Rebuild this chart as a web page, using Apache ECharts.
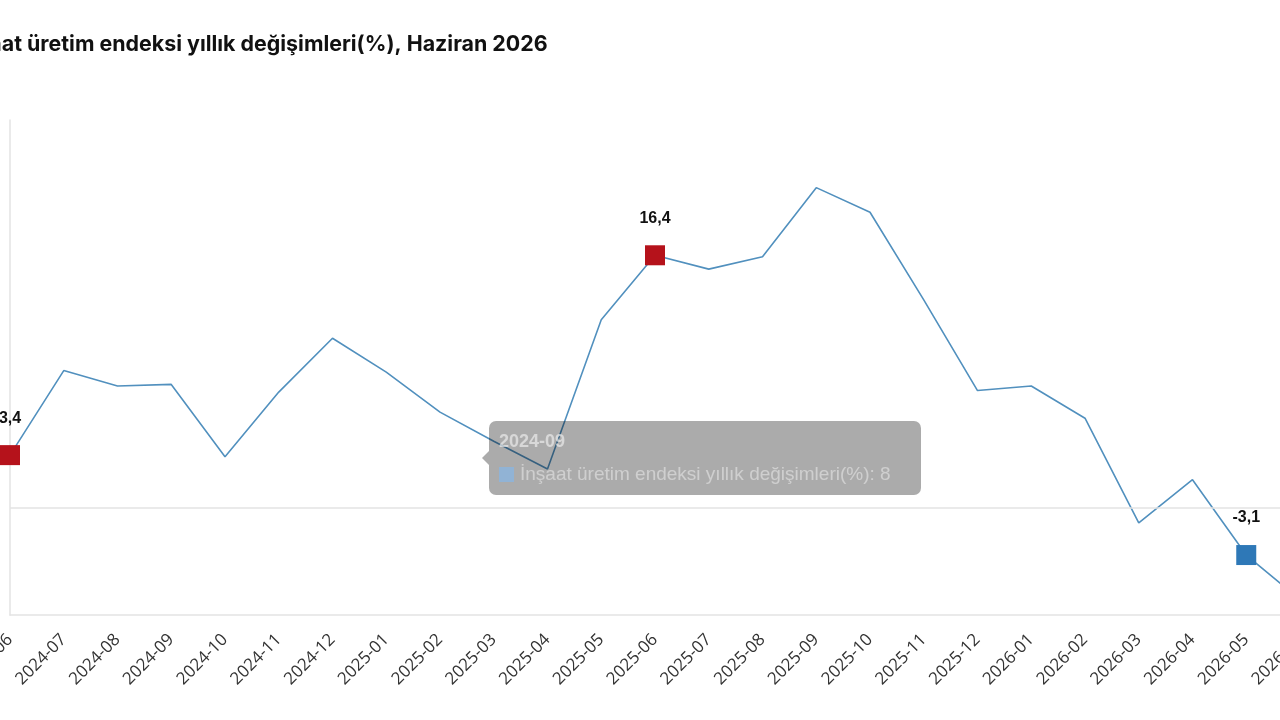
<!DOCTYPE html>
<html>
<head>
<meta charset="utf-8">
<script src="https://cdn.jsdelivr.net/npm/echarts@6/dist/echarts.min.js"></script>
<style>
html,body{margin:0;padding:0;background:#fff;overflow:hidden;width:1280px;height:720px;}
#chart{position:absolute;left:-60px;top:0;width:1400px;height:720px;}
</style>
</head>
<body>
<div id="chart"></div>
<script>
var titleText = 'İnşaat üretim endeksi yıllık değişimleri(%), Haziran 2026';
var seriesName = 'İnşaat üretim endeksi yıllık değişimleri(%)';
var categories = ['2024-06','2024-07','2024-08','2024-09','2024-10','2024-11','2024-12',
  '2025-01','2025-02','2025-03','2025-04','2025-05','2025-06','2025-07','2025-08','2025-09',
  '2025-10','2025-11','2025-12','2026-01','2026-02','2026-03','2026-04','2026-05','2026-06'];
var values = [3.4, 8.9, 7.9, 8, 3.3, 7.5, 11.0, 8.8, 6.2, 4.3, 2.5, 12.2, 16.4, 15.5, 16.3, 20.8,
  19.2, 13.5, 7.6, 7.9, 5.8, -1.0, 1.8, -3.1, -6.0];
var redPoints = ['2024-06', '2025-06'];
var bluePoints = ['2026-05'];
var tooltipCategory = '2024-09';

var RED = '#b5121b', BLUE = '#2e78b7', LINE = '#4a83ad';
var TIP_BG = 'rgba(0,0,0,0.33)';

var data = values.map(function (v, i) {
  var c = categories[i];
  var col = redPoints.indexOf(c) >= 0 ? RED : (bluePoints.indexOf(c) >= 0 ? BLUE : null);
  if (!col) return { value: v, symbol: 'none' };
  return {
    value: v,
    symbol: 'rect',
    symbolSize: 20,
    itemStyle: { color: col, borderWidth: 0 },
    label: {
      show: true, position: 'top', distance: 19,
      fontFamily: 'Liberation Sans, Arial, sans-serif', fontWeight: 'bold', fontSize: 16, color: '#111',
      formatter: function (p) { return String(p.value).replace('.', ','); }
    }
  };
});

var chart = echarts.init(document.getElementById('chart'));
chart.setOption({
  animation: false,
  title: {
    text: titleText, left: 13, top: 29,
    textStyle: { fontFamily: 'Inter, sans-serif', fontWeight: 'bold', fontSize: 21.4, color: '#111' }
  },
  grid: { left: 70, right: 40, top: 120, bottom: 105, containLabel: false },
  tooltip: {
    trigger: 'axis',
    triggerOn: 'none',
    alwaysShowContent: true,
    transitionDuration: 0,
    axisPointer: { type: 'none' },
    position: function () { return [549, 421]; },
    backgroundColor: TIP_BG,
    borderWidth: 0,
    padding: [8, 10],
    extraCssText: 'width:432px;height:74px;box-sizing:border-box;border-radius:7px;box-shadow:none;',
    formatter: function (ps) {
      var p = ps[0];
      return '<div style="position:absolute;left:-7px;top:30px;width:0;height:0;border-top:7px solid transparent;border-bottom:7px solid transparent;border-right:7px solid ' + TIP_BG + '"></div>' +
        '<div style="font-family:Liberation Sans,Arial,sans-serif;font-size:18px;font-weight:bold;color:rgba(235,235,235,0.7);line-height:24px">' + p.name + '</div>' +
        '<div style="font-family:Liberation Sans,Arial,sans-serif;font-size:19px;color:rgba(230,230,230,0.6);line-height:26px;margin-top:8px;white-space:nowrap">' +
        '<span style="display:inline-block;width:15px;height:15px;background:rgba(140,180,220,0.85);margin-right:6px;vertical-align:-2px"></span>' +
        p.seriesName + ': ' + p.value + '</div>';
    }
  },
  xAxis: {
    type: 'category',
    data: categories,
    boundaryGap: false,
    axisLine: { show: true, onZero: false, lineStyle: { color: '#e3e3e3', width: 1.5 } },
    axisTick: { show: false },
    axisLabel: {
      rotate: 45, margin: 22, interval: 0,
      fontFamily: 'Open Sans, sans-serif', fontSize: 17, color: '#333'
    },
    splitLine: { show: false }
  },
  yAxis: {
    type: 'value',
    min: -7, max: 25.2,
    axisLine: { show: true, lineStyle: { color: '#e3e3e3', width: 1.5 } },
    axisTick: { show: false },
    axisLabel: { show: false },
    splitLine: { show: false }
  },
  series: [{
    name: seriesName,
    type: 'line',
    data: data,
    showSymbol: true,
    symbol: 'none',
    lineStyle: { color: LINE, width: 1.6 },
    itemStyle: { color: LINE },
    markLine: {
      silent: true, symbol: 'none', label: { show: false },
      lineStyle: { color: '#e3e3e3', width: 1.5, type: 'solid' },
      data: [{ yAxis: 0 }]
    }
  }]
});
chart.dispatchAction({ type: 'showTip', seriesIndex: 0, dataIndex: categories.indexOf(tooltipCategory) });
</script>
</body>
</html>
